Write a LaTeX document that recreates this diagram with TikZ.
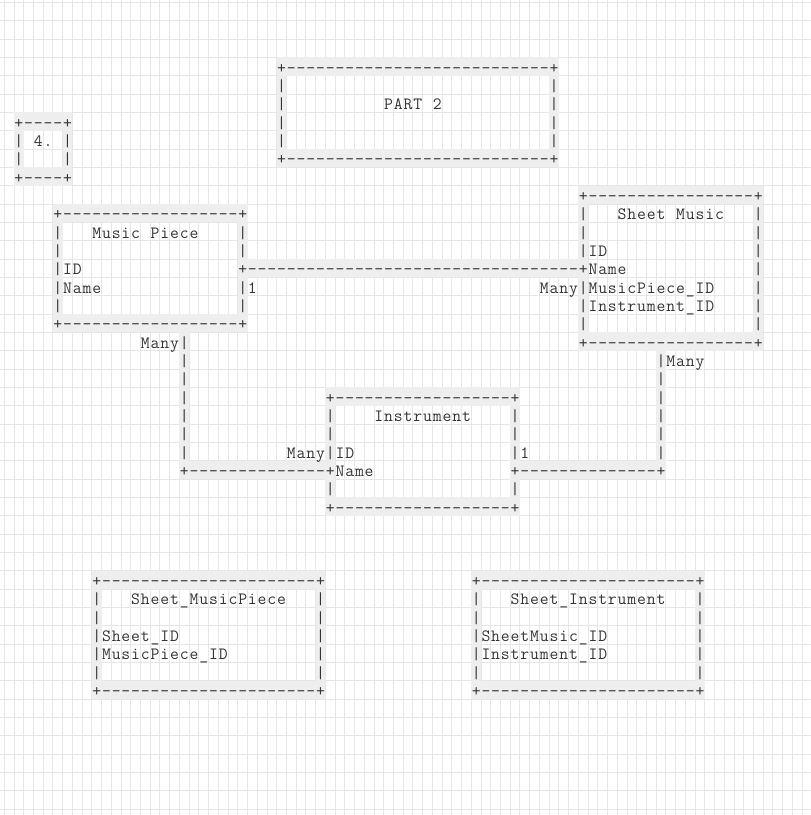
\documentclass[tikz,border=0pt]{standalone}
\usepackage{fontspec}

\definecolor{gridgray}{HTML}{E6E6E6}
\definecolor{cellgray}{HTML}{EEEEEE}
\definecolor{inkgray}{HTML}{333333}

\tikzset{
  gridline/.style={gridgray,line width=0.75pt},
  glyph/.style={anchor=base,inner sep=0pt,text=inkgray,
    font=\fontsize{12.9pt}{12.9pt}\selectfont\ttfamily},
}

% one character on a grey cell (col, row, char)
\newcommand\cellchar[3]{%
  \fill[cellgray] (#1,#2) rectangle ++(1,1);
  \node[glyph] (c-#1-#2) at (#1+.5,#2+.86) {#3};}
% junction cells get + instead of |
\newcommand\junction[2]{\expandafter\gdef\csname junc@#1@#2\endcsname{}}
\newcommand\dashrun[3]{\foreach \c in {#2,...,#3}{\cellchar{\c}{#1}{-}}}% row, col..col
\newcommand\barrun[3]{\foreach \r in {#2,...,#3}{%
  \ifcsname junc@#1@\r\endcsname\cellchar{#1}{\r}{+}\else\cellchar{#1}{\r}{|}\fi}}% col, row..row
\newcommand\asciibox[4]{% left col, top row, right col, bottom row
  \cellchar{#1}{#2}{+}\cellchar{#3}{#2}{+}\cellchar{#1}{#4}{+}\cellchar{#3}{#4}{+}
  \pgfmathtruncatemacro\ca{#1+1}\pgfmathtruncatemacro\cb{#3-1}
  \pgfmathtruncatemacro\ra{#2+1}\pgfmathtruncatemacro\rb{#4-1}
  \dashrun{#2}{\ca}{\cb}\dashrun{#4}{\ca}{\cb}
  \barrun{#1}{\ra}{\rb}\barrun{#3}{\ra}{\rb}}

% plain text, one character per column (col, row, text)
\ExplSyntaxOn
\int_new:N \l_asc_col_int
\NewDocumentCommand \asciitext { m m m }
  {
    \int_set:Nn \l_asc_col_int { #1 }
    \str_map_inline:nn { #3 }
      {
        \str_if_eq:nnF { ##1 } { ~ }
          {
            \node [glyph] (t-\int_use:N \l_asc_col_int -#2)
              at (\int_use:N \l_asc_col_int + .5 , #2 + .86) {##1} ;
          }
        \int_incr:N \l_asc_col_int
      }
  }
\ExplSyntaxOff

\begin{document}
\begin{tikzpicture}[x=7.2975pt,y=-13.7475pt]
\useasboundingbox (-0.442,-3.137) rectangle (82.908,41.326);
\fill[white] (-0.442,-3.137) rectangle (82.908,41.326);
\foreach \c in {0,...,82}{\draw[gridline] (\c,-3.2) -- (\c,41.4);}
\foreach \r in {-3,...,41}{\draw[gridline] (-0.5,\r) -- (83,\r);}

% junctions on box sides
\junction{24}{11}\junction{59}{11}\junction{33}{22}\junction{52}{22}

% boxes
\asciibox{1}{3}{6}{6}
\asciibox{28}{0}{56}{5}
\asciibox{5}{8}{24}{14}
\asciibox{59}{7}{77}{15}
\asciibox{33}{18}{52}{24}
\asciibox{9}{28}{32}{34}
\asciibox{48}{28}{71}{34}

% links
\dashrun{11}{25}{58}
\barrun{18}{15}{21}\cellchar{18}{22}{+}\dashrun{22}{19}{32}
\dashrun{22}{53}{66}\cellchar{67}{22}{+}\barrun{67}{16}{21}

% texts
\asciitext{3}{4}{4.}
\asciitext{39}{2}{PART 2}
\asciitext{9}{9}{Music Piece}
\asciitext{6}{11}{ID}
\asciitext{6}{12}{Name}
\asciitext{25}{12}{1}
\asciitext{63}{8}{Sheet Music}
\asciitext{60}{10}{ID}
\asciitext{60}{11}{Name}
\asciitext{55}{12}{Many}
\asciitext{60}{12}{MusicPiece_ID}
\asciitext{60}{13}{Instrument_ID}
\asciitext{14}{15}{Many}
\asciitext{68}{16}{Many}
\asciitext{38}{19}{Instrument}
\asciitext{29}{21}{Many}
\asciitext{34}{21}{ID}
\asciitext{53}{21}{1}
\asciitext{34}{22}{Name}
\asciitext{13}{29}{Sheet_MusicPiece}
\asciitext{10}{31}{Sheet_ID}
\asciitext{10}{32}{MusicPiece_ID}
\asciitext{52}{29}{Sheet_Instrument}
\asciitext{49}{31}{SheetMusic_ID}
\asciitext{49}{32}{Instrument_ID}
\end{tikzpicture}
\end{document}
